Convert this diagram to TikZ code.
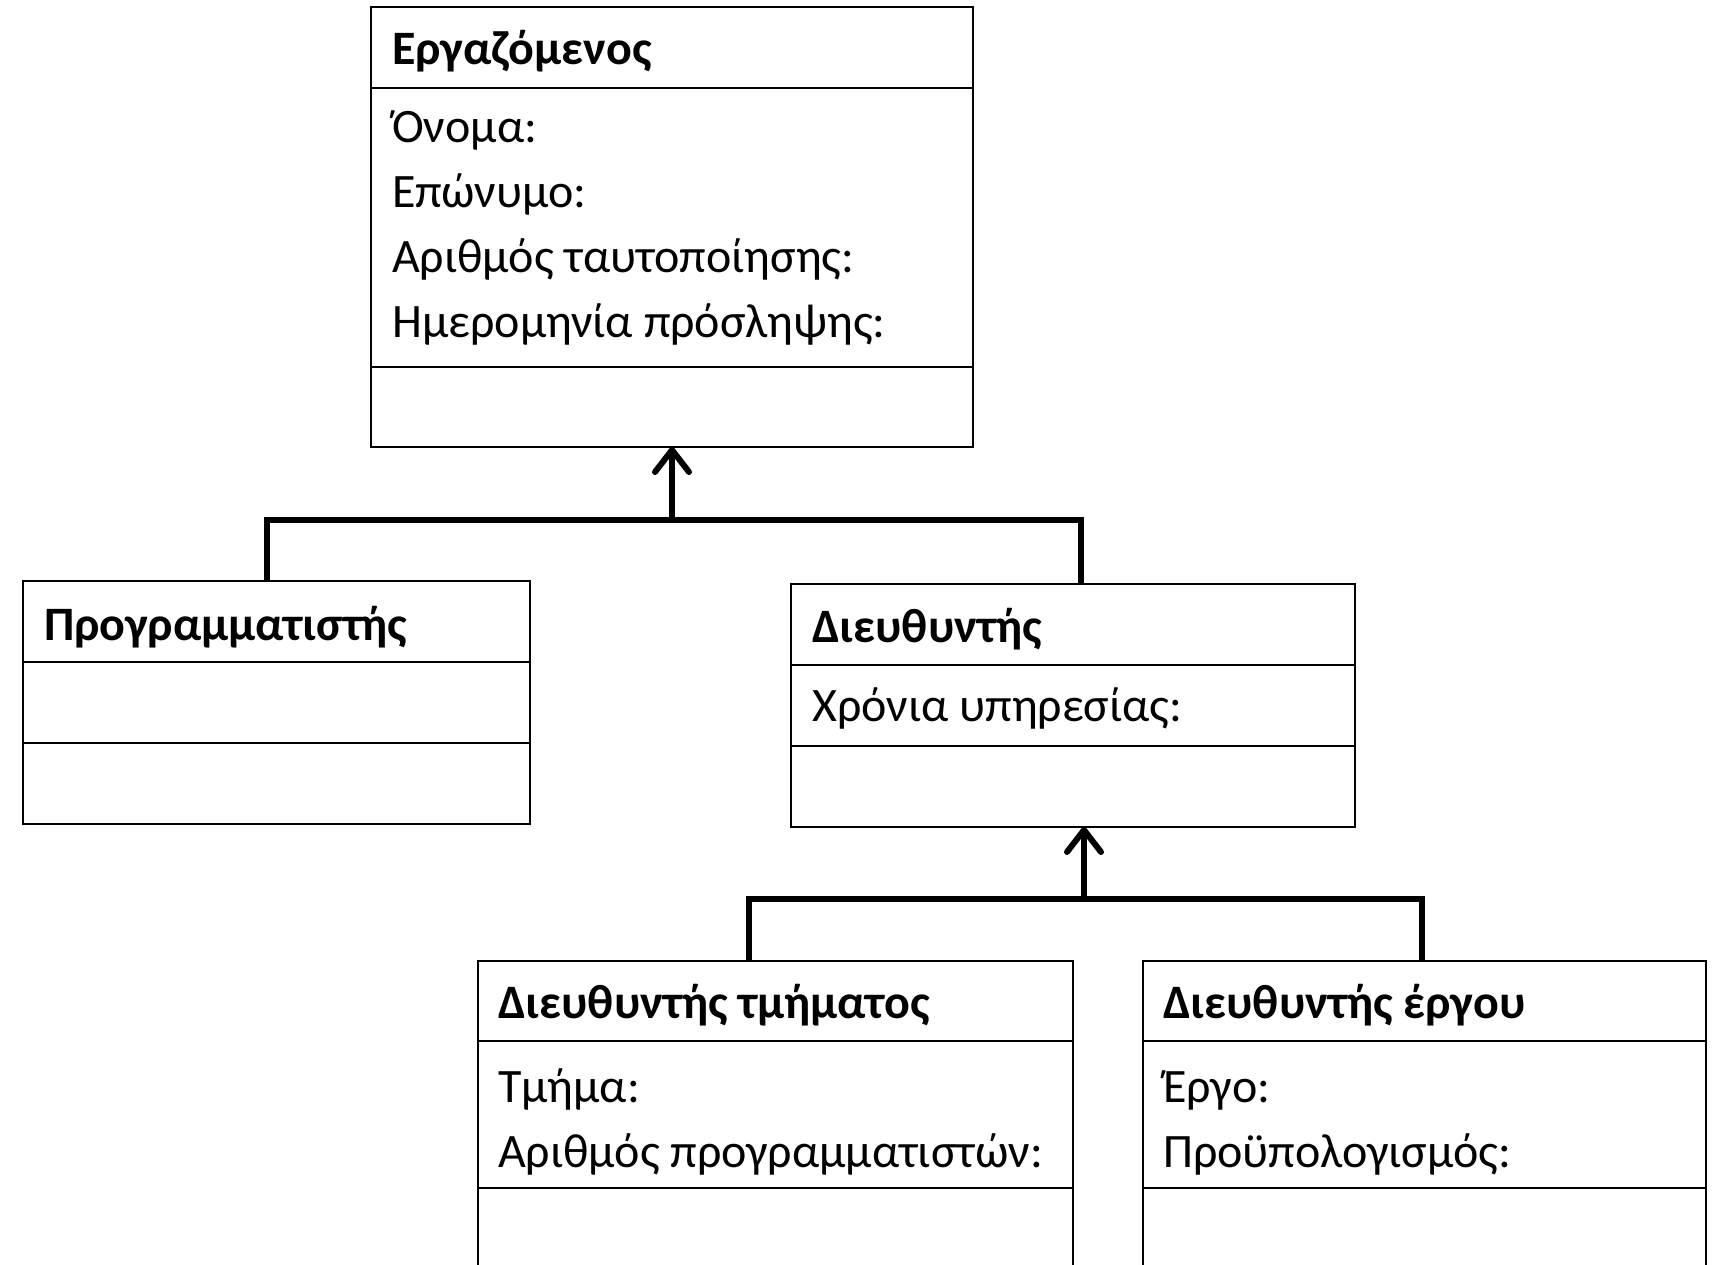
\documentclass[tikz,border=0pt]{standalone}
\usepackage{fontspec}
\setmainfont{Carlito}
\usetikzlibrary{arrows.meta, positioning, calc}

\begin{document}
\begin{tikzpicture}[x=1pt, y=-1pt,
  compart/.style={draw, line width=2.2pt, minimum width=#1, inner sep=0pt, outer sep=0pt, anchor=north west},
  classname/.style={anchor=base west, inner sep=0pt, font=\fontsize{48}{65}\selectfont\bfseries},
  attrs/.style={anchor=base west, inner sep=0pt, align=left, font=\fontsize{48}{65}\selectfont},
  tree/.style={line width=6pt},
  inherit/.style={line width=6pt, -{Straight Barb[round, length=22pt, width=34pt]}}]
  \useasboundingbox (0,0) rectangle (1712,1265);

  % Εργαζόμενος
  \node[compart=602pt, minimum height=81pt] (emp) at (371,7) {};
  \node[compart=602pt, minimum height=279pt, below=0pt of emp] (emp-a) {};
  \node[compart=602pt, minimum height=80pt, below=0pt of emp-a] (emp-o) {};
  \node[classname] (emp-n) at ($(emp.north west)+(21,58)$) {Εργαζόμενος};
  % base = last line
  \node[attrs] (emp-l) at ($(emp-a.north west)+(21,249)$) {Όνομα:\\Επώνυμο:\\Αριθμός ταυτοποίησης:\\Ημερομηνία πρόσληψης:};

  % Προγραμματιστής
  \node[compart=507pt, minimum height=81pt] (prog) at (23,581) {};
  \node[compart=507pt, minimum height=81pt, below=0pt of prog] (prog-a) {};
  \node[compart=507pt, minimum height=81pt, below=0pt of prog-a] (prog-o) {};
  \node[classname] (prog-n) at ($(prog.north west)+(21,59)$) {Προγραμματιστής};

  % Διευθυντής
  \node[compart=564pt, minimum height=81pt] (mgr) at (791,584) {};
  \node[compart=564pt, minimum height=81pt, below=0pt of mgr] (mgr-a) {};
  \node[compart=564pt, minimum height=81pt, below=0pt of mgr-a] (mgr-o) {};
  \node[classname] (mgr-n) at ($(mgr.north west)+(21,58)$) {Διευθυντής};
  \node[attrs] (mgr-l) at ($(mgr-a.north west)+(21,56)$) {Χρόνια υπηρεσίας:};

  % Διευθυντής τμήματος
  \node[compart=595pt, minimum height=80pt] (dmgr) at (478,961) {};
  \node[compart=595pt, minimum height=147pt, below=0pt of dmgr] (dmgr-a) {};
  \node[compart=595pt, minimum height=80pt, below=0pt of dmgr-a] (dmgr-o) {};
  \node[classname] (dmgr-n) at ($(dmgr.north west)+(20,57)$) {Διευθυντής τμήματος};
  \node[attrs] (dmgr-l) at ($(dmgr-a.north west)+(20,126)$) {Τμήμα:\\Αριθμός προγραμματιστών:};

  % Διευθυντής έργου
  \node[compart=563pt, minimum height=80pt] (pmgr) at (1143,961) {};
  \node[compart=563pt, minimum height=147pt, below=0pt of pmgr] (pmgr-a) {};
  \node[compart=563pt, minimum height=80pt, below=0pt of pmgr-a] (pmgr-o) {};
  \node[classname] (pmgr-n) at ($(pmgr.north west)+(20,57)$) {Διευθυντής έργου};
  \node[attrs] (pmgr-l) at ($(pmgr-a.north west)+(20,126)$) {Έργο:\\Προϋπολογισμός:};

  % inheritance
  \coordinate (fork1) at ($(emp-o.south)+(0,73)$);
  \draw[tree] ($(prog.north west)+(244,0)$) |- (fork1) -| ($(mgr.north west)+(290,0)$);
  \draw[inherit] (fork1) -- (emp-o.south);

  \coordinate (fork2) at ($(mgr-o.south west)+(293,72)$);
  \draw[tree] ($(dmgr.north west)+(271,0)$) |- (fork2) -| ($(pmgr.north west)+(279,0)$);
  \draw[inherit] (fork2) -- (fork2 |- mgr-o.south);
\end{tikzpicture}
\end{document}
